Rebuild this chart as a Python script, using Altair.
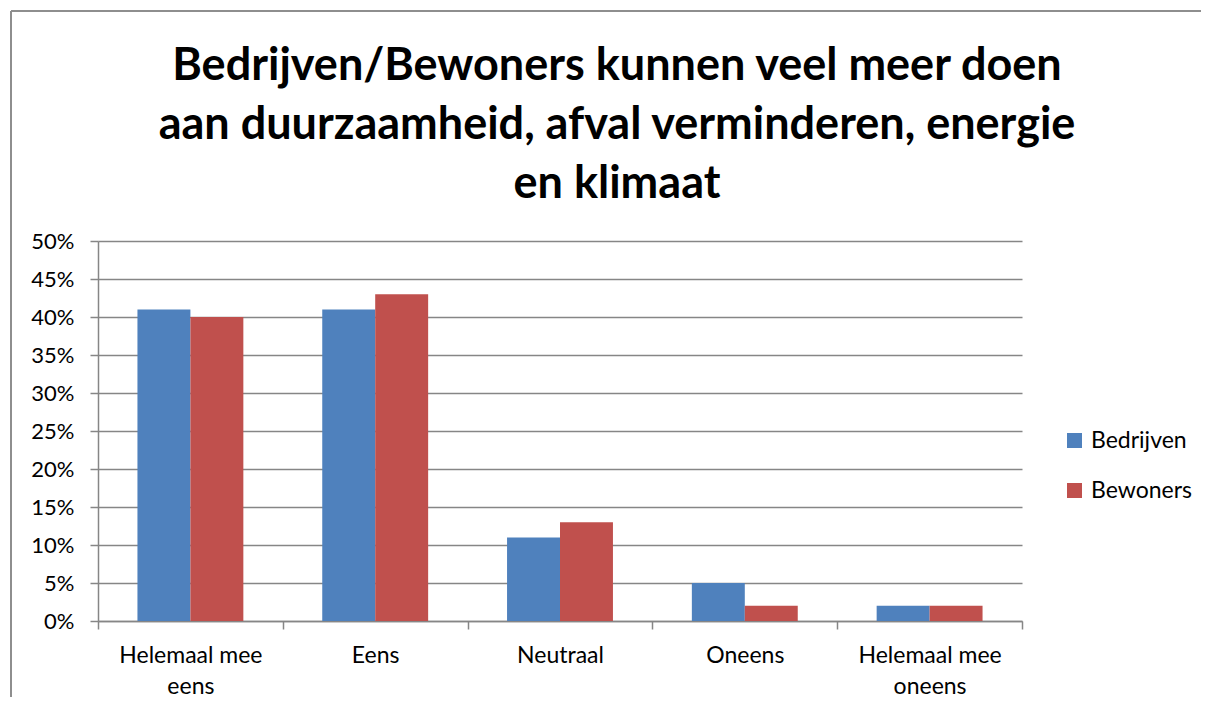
import altair as alt
import pandas as pd

categories = ["Helemaal mee eens", "Eens", "Neutraal", "Oneens", "Helemaal mee oneens"]
series = ["Bedrijven", "Bewoners"]
bedrijven = [0.41, 0.41, 0.11, 0.05, 0.02]
bewoners = [0.40, 0.43, 0.13, 0.02, 0.02]
colors = ["#4F81BD", "#C0504D"]
y_ticks = [0.0, 0.05, 0.10, 0.15, 0.20, 0.25, 0.30, 0.35, 0.40, 0.45, 0.50]
title_lines = [
    "Bedrijven/Bewoners kunnen veel meer doen",
    "aan duurzaamheid, afval verminderen, energie",
    "en klimaat",
]
wrapped = {
    "Helemaal mee eens": ["Helemaal mee", "eens"],
    "Helemaal mee oneens": ["Helemaal mee", "oneens"],
}

rows = []
for c, a, b in zip(categories, bedrijven, bewoners):
    rows.append({"categorie": c, "groep": series[0], "waarde": a})
    rows.append({"categorie": c, "groep": series[1], "waarde": b})
df = pd.DataFrame(rows)

label_expr = ""
for k, v in wrapped.items():
    label_expr += "datum.label == '%s' ? ['%s', '%s'] : " % (k, v[0], v[1])
label_expr += "datum.label"

GRAY = "#868686"
FONT = "Lato"

bars = alt.Chart(df).mark_bar().encode(
    x=alt.X(
        "categorie:N",
        sort=categories,
        scale=alt.Scale(paddingInner=0, paddingOuter=0),
        axis=alt.Axis(
            title=None, labelAngle=0, tickBand="extent", grid=False,
            domainColor=GRAY, domainWidth=1.5, tickColor=GRAY, tickWidth=1.5, tickSize=8,
            labelFont=FONT, labelFontSize=23, labelColor="black",
            labelPadding=15, labelLineHeight=31, labelExpr=label_expr,
        ),
    ),
    xOffset=alt.XOffset("groep:N", sort=series, scale=alt.Scale(paddingOuter=0.745, paddingInner=0)),
    y=alt.Y(
        "waarde:Q",
        scale=alt.Scale(domain=[0, 0.5], nice=False),
        axis=alt.Axis(
            title=None, values=y_ticks, format=".0%",
            grid=True, gridColor=GRAY, gridWidth=1.5,
            domainColor=GRAY, domainWidth=1.5, tickColor=GRAY, tickWidth=1.5, tickSize=8,
            labelFont=FONT, labelFontSize=22, labelColor="black", labelPadding=16,
        ),
    ),
    color=alt.Color(
        "groep:N",
        sort=series,
        scale=alt.Scale(domain=series, range=colors),
        legend=alt.Legend(
            title=None, orient="none", legendX=965, legendY=188, direction="vertical",
            symbolType="square", symbolSize=225, symbolStrokeWidth=0,
            labelFont=FONT, labelFontSize=23, labelColor="black",
            rowPadding=26, labelOffset=5, padding=0,
        ),
    ),
)

frame = alt.Data(values=[{}])
border_top = alt.Chart(frame).mark_rule(color="#8e8e8e", strokeWidth=2).encode(
    x=alt.value(-87), x2=alt.value(1110), y=alt.value(-230)
)
border_left = alt.Chart(frame).mark_rule(color="#8e8e8e", strokeWidth=2).encode(
    x=alt.value(-87), y=alt.value(-230), y2=alt.value(480)
)

chart = alt.layer(bars, border_top, border_left).properties(
    width=924,
    height=380,
    title=alt.TitleParams(
        text=title_lines, font=FONT, fontSize=45, fontWeight="bold", color="black",
        lineHeight=59, anchor="middle", frame="group", dx=57, baseline="bottom", offset=-242,
    ),
    autosize=alt.AutoSizeParams(type="none"),
    padding={"left": 90, "top": 233, "right": 179, "bottom": 76},
).configure_view(stroke=None)

chart.save("out.html", embed_options={"renderer": "svg", "actions": False})
